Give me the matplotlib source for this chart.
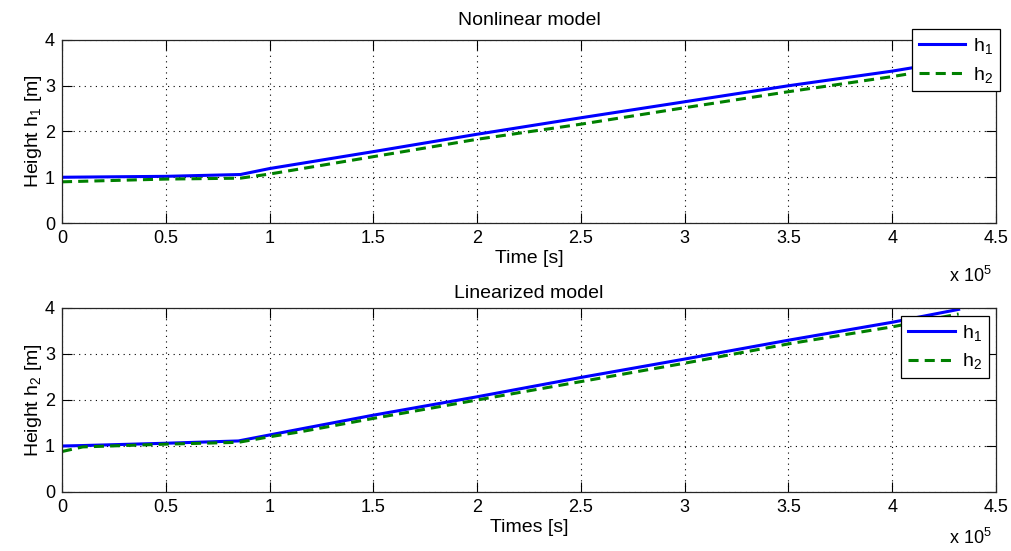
import numpy as np
import matplotlib.pyplot as plt

plt.rcParams['font.family'] = ['Liberation Sans', 'DejaVu Sans']
plt.rcParams['mathtext.fontset'] = 'custom'
plt.rcParams['mathtext.rm'] = 'Liberation Sans'
plt.rcParams['mathtext.it'] = 'Liberation Sans'

# -----------------------------
# Data (time in seconds, height in m)
# -----------------------------
t_nl = np.array([0, 0.5, 0.86, 1.0, 1.5, 2.0, 2.5, 3.0, 3.5, 4.0, 4.32]) * 1e5
h1_nl = [1.00, 1.02, 1.06, 1.19, 1.56, 1.94, 2.30, 2.65, 3.00, 3.32, 3.56]
h2_nl = [0.90, 0.96, 0.98, 1.07, 1.45, 1.83, 2.16, 2.52, 2.87, 3.20, 3.44]

t_lin = np.array([0, 0.1, 0.5, 0.85, 1.0, 1.15, 1.5, 2.0, 2.5, 3.0, 3.5, 4.0, 4.32]) * 1e5
h1_lin = [1.00, 1.01, 1.06, 1.11, 1.24, 1.37, 1.67, 2.07, 2.49, 2.89, 3.30, 3.69, 3.97]
h2_lin = [0.88, 0.98, 1.04, 1.08, 1.20, 1.31, 1.60, 2.00, 2.40, 2.80, 3.22, 3.59, 3.87]

x_ticks = [0, 0.5, 1, 1.5, 2, 2.5, 3, 3.5, 4, 4.5]
x_ticklabels = ['0', '0.5', '1', '1.5', '2', '2.5', '3', '3.5', '4', '4.5']
y_ticks = [0, 1, 2, 3, 4]

SCALE = 1e5
W, H = 1012, 551
fig = plt.figure(figsize=(W / 100, H / 100), dpi=100)

ax1 = fig.add_axes([62 / W, 1 - 223 / H, 934 / W, 183 / H])
ax2 = fig.add_axes([62 / W, 1 - 492 / H, 934 / W, 184 / H])


def style(ax):
    ax.set_xlim(0, 4.5)
    ax.set_ylim(0, 4)
    ax.set_xticks(x_ticks)
    ax.set_xticklabels(x_ticklabels)
    ax.set_yticks(y_ticks)
    ax.tick_params(direction='in', length=7, width=0.8, top=True, right=True,
                   labelsize=13, pad=5, colors='black')
    ax.grid(True, color='black', linestyle=(0, (1, 4)), linewidth=0.8)
    for s in ax.spines.values():
        s.set_linewidth(0.9)
        s.set_color('#262626')


def draw(ax, t, h1, h2, legend_anchor):
    ax.plot(t / SCALE, h1, color='#0000ff', lw=2.2, label='h$_1$')
    ax.plot(t / SCALE, h2, color='#008000', lw=2.2, linestyle=(0, (3.3, 2)), label='h$_2$')
    leg = ax.legend(loc='upper right', bbox_to_anchor=legend_anchor, fontsize=14,
                    fancybox=False, framealpha=1, edgecolor='black',
                    borderaxespad=0, handlelength=2.4, borderpad=0.35,
                    labelspacing=0.45, handletextpad=0.4)
    leg.get_frame().set_linewidth(0.9)


style(ax1)
draw(ax1, t_nl, h1_nl, h2_nl, (1.004, 1.06))
ax1.set_title('Nonlinear model', fontsize=14, pad=11)
ax1.set_xlabel('Time [s]', fontsize=14, labelpad=2)
ax1.set_ylabel('Height h$_1$ [m]', fontsize=14, labelpad=1)
fig.text(949 / W, 1 - 276 / H, 'x 10$^5$', fontsize=13, va='center')

style(ax2)
draw(ax2, t_lin, h1_lin, h2_lin, (0.9925, 0.957))
ax2.set_title('Linearized model', fontsize=14, pad=7)
ax2.set_xlabel('Times [s]', fontsize=14, labelpad=2)
ax2.set_ylabel('Height h$_2$ [m]', fontsize=14, labelpad=1)
fig.text(949 / W, 1 - 538 / H, 'x 10$^5$', fontsize=13, va='center')

fig.savefig('out.png', dpi=100)
